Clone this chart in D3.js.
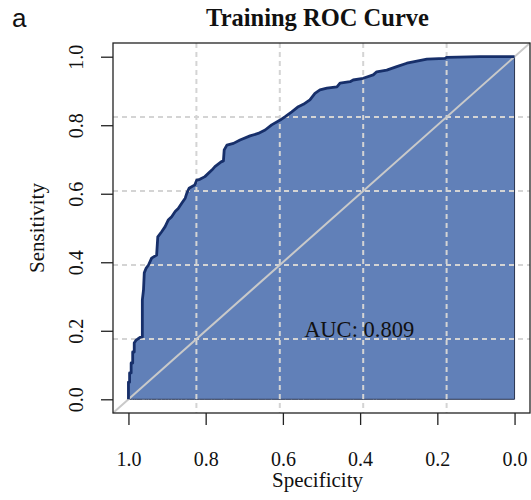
<!DOCTYPE html>
<html>
<head>
<meta charset="utf-8">
<script src="https://cdn.jsdelivr.net/npm/d3@7/dist/d3.min.js"></script>
<style>
  html, body { margin: 0; padding: 0; background: #ffffff; }
  svg { display: block; }
</style>
</head>
<body>
<svg id="chart" width="531" height="500"></svg>
<script>
// ROC curve of the training set: specificity / sensitivity pairs along the curve
const specificity = [
  1.000, 1.000, 0.997, 0.997, 0.993, 0.993, 0.989, 0.989, 0.985, 0.985,
  0.980, 0.970, 0.964, 0.964, 0.961, 0.959, 0.954, 0.948, 0.940, 0.927,
  0.924, 0.914, 0.905, 0.897, 0.888, 0.879, 0.871, 0.862, 0.853, 0.849,
  0.843, 0.828, 0.823, 0.815, 0.802, 0.784, 0.776, 0.760, 0.754, 0.752,
  0.745, 0.728, 0.711, 0.685, 0.664, 0.646, 0.629, 0.607, 0.594, 0.577,
  0.560, 0.547, 0.530, 0.517, 0.504, 0.486, 0.460, 0.452, 0.426, 0.418,
  0.392, 0.366, 0.357, 0.331, 0.305, 0.279, 0.253, 0.227, 0.180, 0.176,
  0.089, 0.000
];
const sensitivity = [
  0.000, 0.050, 0.050, 0.077, 0.077, 0.106, 0.106, 0.138, 0.138, 0.164,
  0.173, 0.181, 0.182, 0.290, 0.319, 0.369, 0.383, 0.392, 0.412, 0.421,
  0.474, 0.489, 0.504, 0.523, 0.533, 0.548, 0.557, 0.572, 0.587, 0.601,
  0.616, 0.626, 0.640, 0.642, 0.650, 0.669, 0.679, 0.693, 0.696, 0.728,
  0.742, 0.747, 0.757, 0.769, 0.776, 0.786, 0.801, 0.815, 0.825, 0.839,
  0.854, 0.861, 0.874, 0.893, 0.903, 0.908, 0.912, 0.923, 0.927, 0.932,
  0.937, 0.947, 0.956, 0.961, 0.971, 0.981, 0.987, 0.993, 0.995, 0.998,
  1.000, 1.000
];
const xTicks = [1.0, 0.8, 0.6, 0.4, 0.2, 0.0];
const yTicks = [0.0, 0.2, 0.4, 0.6, 0.8, 1.0];
const gridSteps = [0.2, 0.4, 0.6, 0.8];
const aucValue = 0.809;
const titleText = "Training ROC Curve";
const xTitle = "Specificity";
const yTitle = "Sensitivity";
const panelTag = "a";

const svg = d3.select("#chart");
const serif = "'Liberation Serif', 'Times New Roman', serif";

// plotting region (box) and data scales with 4% padding on each side
const box = { left: 113, right: 530, top: 43, bottom: 413 };
const x = d3.scaleLinear().domain([1.04, -0.04]).range([box.left, box.right]);
const y = d3.scaleLinear().domain([-0.04, 1.04]).range([box.bottom, box.top]);
// grid and reference diagonal span the whole box
const gx = d3.scaleLinear().domain([1, 0]).range([box.left, box.right]);
const gy = d3.scaleLinear().domain([0, 1]).range([box.bottom, box.top]);

const pts = specificity.map((s, i) => [s, sensitivity[i]]);

// shaded AUC polygon
const area = d3.area()
  .x(d => x(d[0]))
  .y0(y(0))
  .y1(d => y(d[1]));
svg.append("path")
  .datum(pts)
  .attr("d", area)
  .attr("fill", "#6180b8")
  .attr("stroke", "#2a3550")
  .attr("stroke-width", 1);

// dotted grid
const gridG = svg.append("g")
  .attr("stroke", "#d4d4d4")
  .attr("stroke-width", 2)
  .attr("stroke-dasharray", "5,4")
  .attr("fill", "none");
gridSteps.forEach(v => {
  gridG.append("line")
    .attr("x1", gx(v)).attr("x2", gx(v))
    .attr("y1", box.top).attr("y2", box.bottom);
  gridG.append("line")
    .attr("x1", box.left).attr("x2", box.right)
    .attr("y1", gy(v)).attr("y2", gy(v));
});

// chance diagonal
svg.append("line")
  .attr("x1", gx(1)).attr("y1", gy(0))
  .attr("x2", gx(0)).attr("y2", gy(1))
  .attr("stroke", "#c9c9c9")
  .attr("stroke-width", 2);

// ROC curve
const line = d3.line().x(d => x(d[0])).y(d => y(d[1]));
svg.append("path")
  .datum(pts)
  .attr("d", line)
  .attr("fill", "none")
  .attr("stroke", "#172f6a")
  .attr("stroke-width", 2.8)
  .attr("stroke-linejoin", "round");

// box
svg.append("rect")
  .attr("x", box.left).attr("y", box.top)
  .attr("width", box.right - box.left)
  .attr("height", box.bottom - box.top)
  .attr("fill", "none")
  .attr("stroke", "#222")
  .attr("stroke-width", 1.3);

// x axis
const xAxis = d3.axisBottom(x)
  .tickValues(xTicks)
  .tickFormat(d3.format(".1f"))
  .tickSize(12)
  .tickPadding(26);
const xg = svg.append("g")
  .attr("transform", `translate(0,${box.bottom})`)
  .call(xAxis);
xg.select(".domain").remove();
xg.selectAll(".tick line").attr("stroke", "#222").attr("stroke-width", 1.3);
xg.selectAll(".tick text")
  .attr("font-family", serif)
  .attr("font-size", 20)
  .attr("fill", "#111")
  .attr("dy", "0")
  .attr("y", 53);

// y axis with rotated labels
const yAxis = d3.axisLeft(y)
  .tickValues(yTicks)
  .tickFormat(d3.format(".1f"))
  .tickSize(12);
const yg = svg.append("g")
  .attr("transform", `translate(${box.left},0)`)
  .call(yAxis);
yg.select(".domain").remove();
yg.selectAll(".tick line").attr("stroke", "#222").attr("stroke-width", 1.3);
yg.selectAll(".tick text")
  .attr("font-family", serif)
  .attr("font-size", 20)
  .attr("fill", "#111")
  .attr("x", null).attr("dy", null)
  .attr("text-anchor", "middle")
  .attr("transform", "translate(-30,0) rotate(-90)");

// titles
svg.append("text")
  .attr("x", (box.left + box.right) / 2 - 4)
  .attr("y", 26)
  .attr("text-anchor", "middle")
  .attr("font-family", serif)
  .attr("font-weight", "bold")
  .attr("font-size", 24.5)
  .attr("fill", "#111")
  .text(titleText);

svg.append("text")
  .attr("x", (box.left + box.right) / 2 - 4)
  .attr("y", 487)
  .attr("text-anchor", "middle")
  .attr("font-family", serif)
  .attr("font-size", 21)
  .attr("fill", "#111")
  .text(xTitle);

svg.append("text")
  .attr("transform", `translate(44,${(box.top + box.bottom) / 2}) rotate(-90)`)
  .attr("text-anchor", "middle")
  .attr("font-family", serif)
  .attr("font-size", 21)
  .attr("fill", "#111")
  .text(yTitle);

// AUC annotation
svg.append("text")
  .attr("x", x(0.545))
  .attr("y", y(0.182))
  .attr("font-family", serif)
  .attr("font-size", 22.5)
  .attr("fill", "#111")
  .text("AUC: " + d3.format(".3f")(aucValue));

// panel tag
svg.append("text")
  .attr("x", 12)
  .attr("y", 27)
  .attr("font-family", "'Liberation Sans', Arial, sans-serif")
  .attr("font-size", 26)
  .attr("fill", "#111")
  .text(panelTag);
</script>
</body>
</html>
